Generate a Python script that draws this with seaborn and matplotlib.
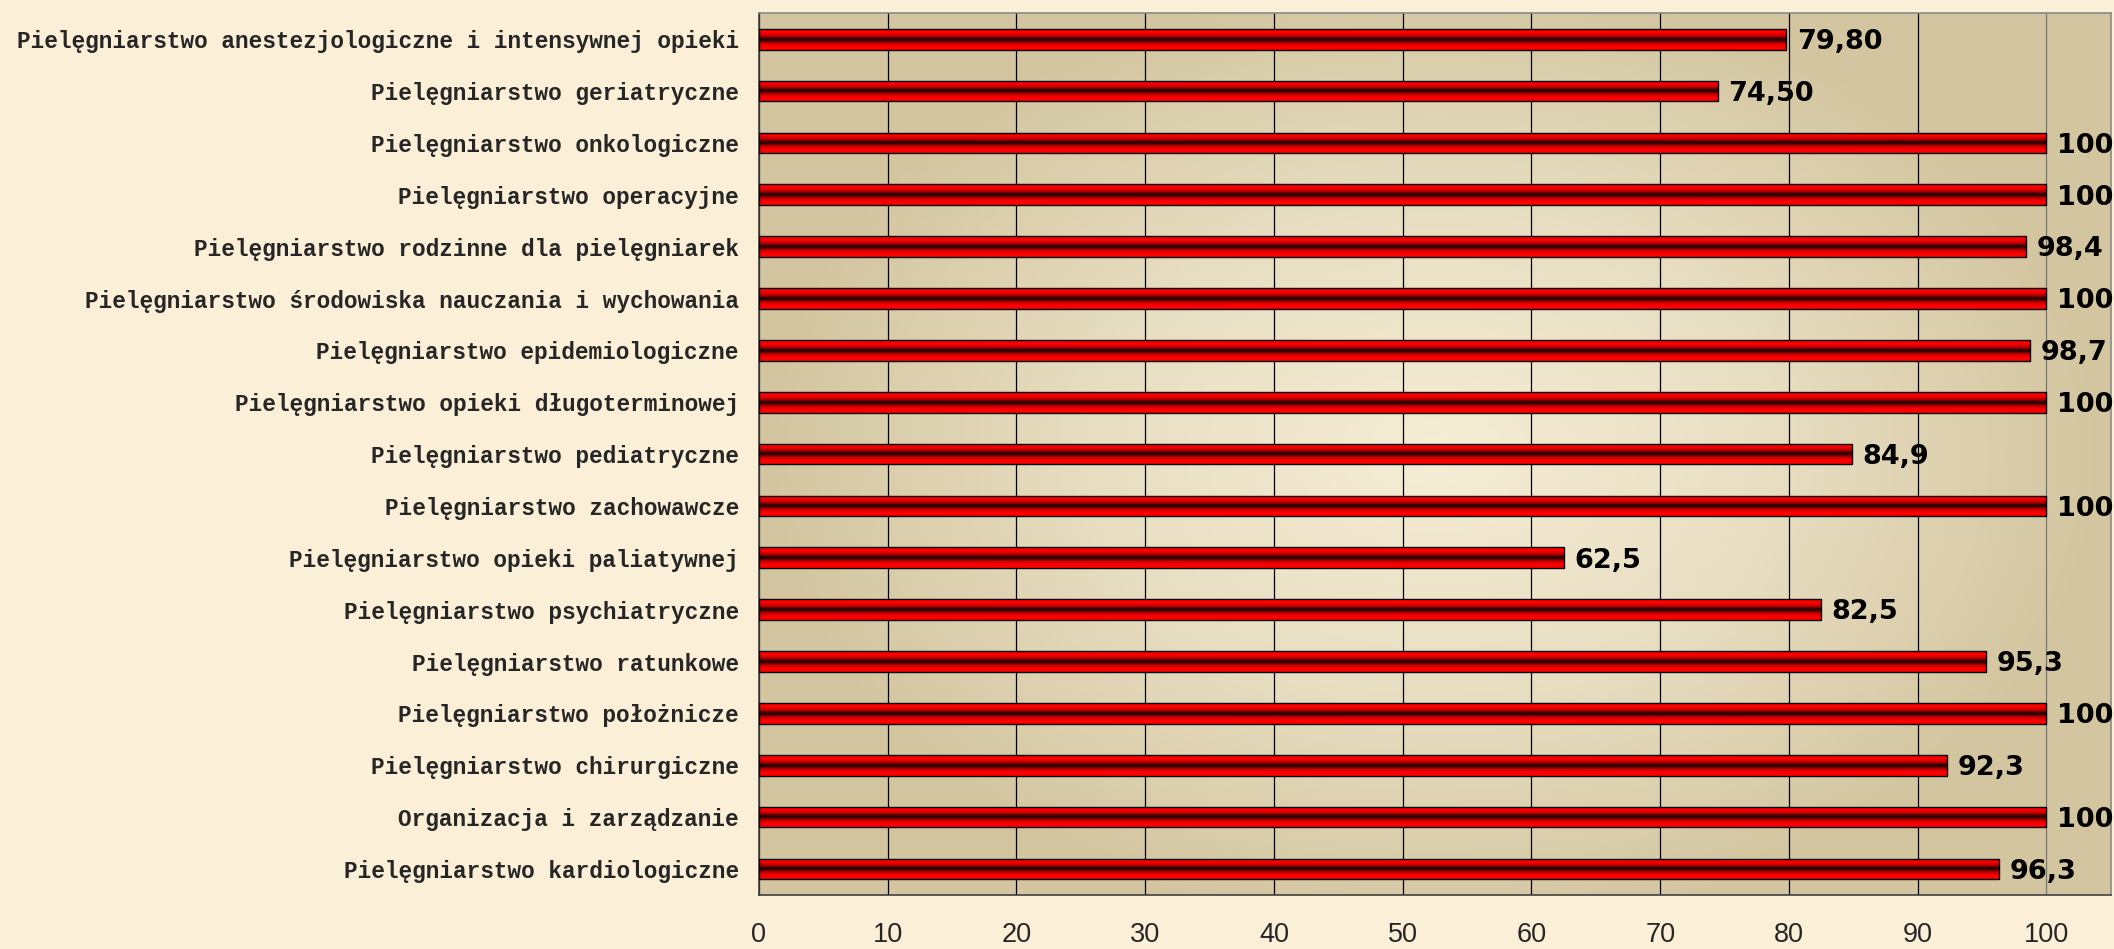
import matplotlib
matplotlib.use("Agg")
import matplotlib.pyplot as plt
from matplotlib.colors import LinearSegmentedColormap
import seaborn as sns
import pandas as pd
import numpy as np

# data (top to bottom)
categories = [
    "Pielęgniarstwo anestezjologiczne i intensywnej opieki",
    "Pielęgniarstwo geriatryczne",
    "Pielęgniarstwo onkologiczne",
    "Pielęgniarstwo operacyjne",
    "Pielęgniarstwo rodzinne dla pielęgniarek",
    "Pielęgniarstwo środowiska nauczania i wychowania",
    "Pielęgniarstwo epidemiologiczne",
    "Pielęgniarstwo opieki długoterminowej",
    "Pielęgniarstwo pediatryczne",
    "Pielęgniarstwo zachowawcze",
    "Pielęgniarstwo opieki paliatywnej",
    "Pielęgniarstwo psychiatryczne",
    "Pielęgniarstwo ratunkowe",
    "Pielęgniarstwo położnicze",
    "Pielęgniarstwo chirurgiczne",
    "Organizacja i zarządzanie",
    "Pielęgniarstwo kardiologiczne",
]
values = [79.80, 74.50, 100, 100, 98.4, 100, 98.7, 100, 84.9, 100,
          62.5, 82.5, 95.3, 100, 92.3, 100, 96.3]
value_labels = ["79,80", "74,50", "100", "100", "98,4", "100", "98,7", "100",
                "84,9", "100", "62,5", "82,5", "95,3", "100", "92,3", "100", "96,3"]
x_ticks = [0, 10, 20, 30, 40, 50, 60, 70, 80, 90, 100]

df = pd.DataFrame({"kierunek": categories, "wynik": values})

sns.set_style("white")
plt.rcParams["font.family"] = ["Liberation Sans", "DejaVu Sans"]

fig = plt.figure(figsize=(21.14, 9.49), dpi=100, facecolor="#FBEFD7")
ax = fig.add_axes([0.359, 0.057, 0.6395, 0.929])

# plot area background: light in the middle, tan toward the edges
bg_cmap = LinearSegmentedColormap.from_list("bg", ["#F6EDD6", "#E8DEC2", "#D3C59F"])
gx, gy = np.meshgrid(np.linspace(-1, 1, 400), np.linspace(-1, 1, 200))
r = np.clip(np.sqrt((gx / 1.0) ** 2 + (gy / 1.1) ** 2), 0, 1)
ax.imshow(r, cmap=bg_cmap, extent=(0, 1, 0, 1), transform=ax.transAxes,
          aspect="auto", zorder=0, vmin=0, vmax=1)

sns.barplot(data=df, x="wynik", y="kierunek", orient="h", color="#FF0000",
            edgecolor="black", linewidth=1.0, width=0.4, ax=ax, zorder=3)

# cylinder-like red/black gradient inside each bar
bar_cmap = LinearSegmentedColormap.from_list(
    "bar", [(0, "#FF0000"), (0.15, "#FF0000"), (0.32, "#C80000"), (0.5, "#100000"),
            (0.68, "#C80000"), (0.85, "#FF0000"), (1, "#FF0000")])
grad = np.linspace(0, 1, 64).reshape(-1, 1)
for p in ax.patches:
    x0, y0 = p.get_x(), p.get_y()
    w, h = p.get_width(), p.get_height()
    im = ax.imshow(grad, cmap=bar_cmap, aspect="auto", extent=(x0, x0 + w, y0 + h, y0),
                   zorder=3.5, interpolation="bilinear")
    im.set_clip_path(p)
    p.set_facecolor("none")
    p.set_zorder(4)

ax.set_xlim(0, 105)
ax.set_ylim(len(categories) - 0.5, -0.5)
ax.set_xticks(x_ticks)
ax.set_xticklabels([str(t) for t in x_ticks], fontsize=19.5, family=["Liberation Sans"])
ax.set_yticks(np.arange(len(categories)))
ax.set_yticklabels(categories, fontsize=16.4, fontweight="bold", family=["Liberation Mono"])
ax.set_yticks(np.arange(-0.5, len(categories), 1), minor=True)
ax.tick_params(axis="y", which="major", length=0, pad=14.5)
ax.tick_params(axis="y", which="minor", length=6, width=1, color="black", direction="out")
ax.tick_params(axis="x", which="major", length=6.5, width=1, color="black", direction="out", pad=13)
ax.set_xlabel("")
ax.set_ylabel("")

ax.grid(axis="x", color="black", linewidth=0.9, zorder=1)
ax.set_axisbelow(True)
ax.get_xgridlines()[-1].set_color("#777777")

for side in ["top", "right"]:
    ax.spines[side].set_color("#8A8A8A")
    ax.spines[side].set_linewidth(1.2)
for side in ["left", "bottom"]:
    ax.spines[side].set_color("#404040")
    ax.spines[side].set_linewidth(1.2)

for i, (v, lab) in enumerate(zip(values, value_labels)):
    ax.annotate(lab, xy=(v, i), xytext=(7.5, -2), textcoords="offset points",
                ha="left", va="center", fontsize=19.5, fontweight="bold",
                family=["DejaVu Sans"], color="black", clip_on=False, zorder=6)

fig.savefig("out.png", dpi=100, facecolor=fig.get_facecolor())
